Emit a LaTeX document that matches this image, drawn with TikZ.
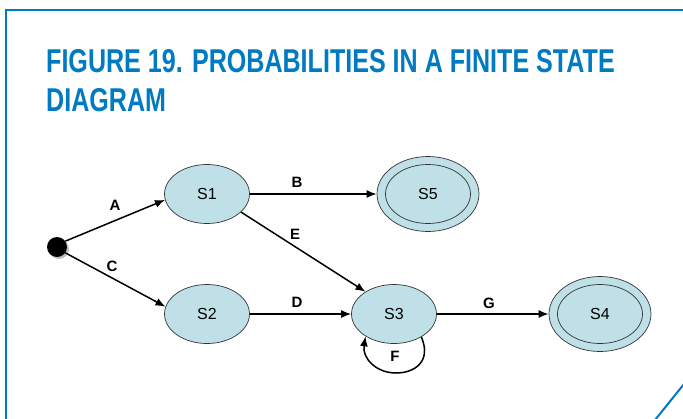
\documentclass[tikz,border=0pt]{standalone}
\usepackage{fontspec}
\setmainfont{Liberation Sans}
\newfontfamily\titlefont[FakeStretch=0.76]{Liberation Sans Bold}
\usetikzlibrary{shapes.geometric,arrows.meta,shadows}
\definecolor{frameblue}{RGB}{0,122,194}
\definecolor{statefill}{RGB}{190,224,230}
\tikzset{
  state/.style={ellipse,draw=black!80,fill=statefill,line width=0.7pt,minimum width=85pt,minimum height=59pt,inner sep=0pt,font=\fontsize{16}{16}\selectfont},
  outerstate/.style={ellipse,draw=black!80,fill=statefill,line width=0.7pt,minimum width=102pt,minimum height=75pt,inner sep=0pt},
  innerstate/.style={ellipse,draw=black!80,line width=0.7pt,minimum width=85pt,minimum height=59pt,inner sep=0pt,font=\fontsize{16}{16}\selectfont},
  trans/.style={line width=1.5pt,-{Latex[length=10pt,width=8pt]}},
  lbl/.style={font=\bfseries\fontsize{15}{15}\selectfont,inner sep=0pt},
  frame/.style={draw=frameblue,line width=2pt}
}
\begin{document}
\begin{tikzpicture}[x=1pt,y=-1pt]
\useasboundingbox (0,0) rectangle (683,418);
\draw[frame] (6,419) -- (6,10) -- (684,10);
\draw[frame] (655,420) -- (684,384);
\node[anchor=base west,inner sep=0pt,text=frameblue,font=\titlefont\fontsize{33}{33}\selectfont] (t1) at (46,72) {FIGURE 19. PROBABILITIES IN A FINITE STATE};
\node[anchor=base west,inner sep=0pt,text=frameblue,font=\titlefont\fontsize{33}{33}\selectfont] (t2) at (46,111) {DIAGRAM};

\node[circle,fill=black,minimum size=20pt,inner sep=0pt,drop shadow={shadow xshift=2pt,shadow yshift=-2pt,fill=black!50}] (dot) at (57,247) {};
\node[state] (S1) at (207,194) {S1};
\node[state] (S2) at (207,314) {S2};
\node[state] (S3) at (394,314) {S3};
\node[outerstate] (S5o) at (428,194) {};
\node[innerstate] (S5) at (428,194) {S5};
\node[outerstate] (S4o) at (600,314) {};
\node[innerstate] (S4) at (600,314) {S4};

\draw[trans] (dot.35) -- (S1.188);
\draw[trans] (dot.-35) -- (S2.170);
\draw[trans] (S1.east) -- (S5o.west);
\draw[trans] (S1.-28) -- (S3.142);
\draw[trans] (S2.east) -- (S3.west);
\draw[trans] (S3.east) -- (S4o.west);
\draw[trans] (S3.-40) .. controls (432,362) and (414,373) .. (396,373) .. controls (376,373) and (362,358) .. (S3.-142);

\node[lbl] (lA) at (115,205) {A};
\node[lbl] (lC) at (112,266) {C};
\node[lbl] (lB) at (297,182) {B};
\node[lbl] (lE) at (295,234) {E};
\node[lbl] (lD) at (297,302) {D};
\node[lbl] (lG) at (489,303) {G};
\node[lbl] (lF) at (395,356) {F};
\end{tikzpicture}
\end{document}
